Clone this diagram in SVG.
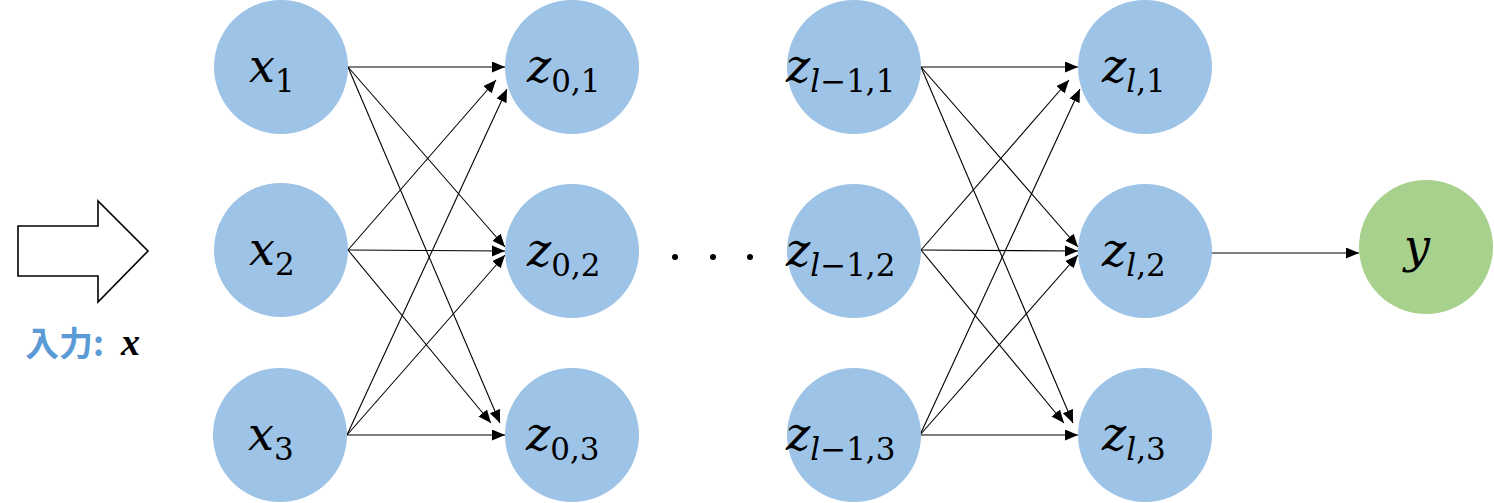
<svg xmlns="http://www.w3.org/2000/svg" width="1494" height="503" viewBox="0 0 1494 503">
<style>
.n{fill:#9DC3E6}
.g{fill:#A9D18E}
.lbl{font-family:"DejaVu Serif","Liberation Serif",serif;fill:#000}
.m{font-size:46px;font-style:italic}
.s{font-size:31px;font-style:normal}
.si{font-size:31px;font-style:italic}
.c line{stroke:#000;stroke-width:1.1;marker-end:url(#ah)}
</style>
<defs>
<marker id="ah" markerUnits="userSpaceOnUse" markerWidth="14" markerHeight="12" refX="13" refY="5.5" orient="auto">
<path d="M0,0 L13,5.5 L0,11 Z" fill="#000"/>
</marker>
</defs>
<rect width="1494" height="503" fill="#fff"/>

<g id="input-arrow">
<path d="M18,226 L98,226 L98,201 L148,251 L98,302 L98,276 L18,276 Z" fill="#fff" stroke="#000" stroke-width="1.6"/>
<text x="25" y="356" font-family="'Noto Sans CJK JP',sans-serif" font-weight="bold" font-size="34" fill="#5B9BD5">入力:</text>
<text x="121" y="355" font-family="'Liberation Serif',serif" font-weight="bold" font-style="italic" font-size="38" fill="#000">x</text>
</g>

<g class="c" id="connectors">
<line x1="348" y1="67" x2="505" y2="67"/>
<line x1="348" y1="67" x2="505" y2="247"/>
<line x1="348" y1="67" x2="500" y2="423"/>
<line x1="348" y1="250" x2="496" y2="80"/>
<line x1="348" y1="250" x2="505" y2="251"/>
<line x1="348" y1="250" x2="491" y2="423"/>
<line x1="347" y1="435" x2="507" y2="89"/>
<line x1="347" y1="435" x2="505" y2="255"/>
<line x1="347" y1="435" x2="505" y2="435"/>

<line x1="921" y1="67" x2="1078" y2="67"/>
<line x1="921" y1="67" x2="1078" y2="247"/>
<line x1="921" y1="67" x2="1073" y2="423"/>
<line x1="921" y1="250" x2="1069" y2="80"/>
<line x1="921" y1="250" x2="1078" y2="251"/>
<line x1="921" y1="250" x2="1064" y2="423"/>
<line x1="920" y1="435" x2="1080" y2="89"/>
<line x1="920" y1="435" x2="1078" y2="255"/>
<line x1="920" y1="435" x2="1078" y2="435"/>

<line x1="1212" y1="253" x2="1359" y2="253"/>
</g>

<g id="x1"><circle class="n" cx="281" cy="67" r="67"/><text class="lbl" x="249" y="82"><tspan class="m">x</tspan><tspan class="s" dy="10">1</tspan></text></g>
<g id="x2"><circle class="n" cx="281" cy="250" r="67"/><text class="lbl" x="249" y="265"><tspan class="m">x</tspan><tspan class="s" dy="10">2</tspan></text></g>
<g id="x3"><circle class="n" cx="280" cy="435" r="67"/><text class="lbl" x="248" y="450"><tspan class="m">x</tspan><tspan class="s" dy="10">3</tspan></text></g>

<g id="z01"><circle class="n" cx="572" cy="67" r="67"/><text class="lbl" x="527" y="82"><tspan class="m">z</tspan><tspan class="s" dy="10">0,1</tspan></text></g>
<g id="z02"><circle class="n" cx="572" cy="251" r="67"/><text class="lbl" x="527" y="266"><tspan class="m">z</tspan><tspan class="s" dy="10">0,2</tspan></text></g>
<g id="z03"><circle class="n" cx="572" cy="435" r="67"/><text class="lbl" x="526" y="450"><tspan class="m">z</tspan><tspan class="s" dy="10">0,3</tspan></text></g>

<g id="dots" fill="#000"><circle cx="675" cy="257" r="3"/><circle cx="713" cy="257" r="3"/><circle cx="750" cy="257" r="3"/></g>

<g id="zl1_1"><circle class="n" cx="854" cy="67" r="67"/><text class="lbl" x="786" y="82"><tspan class="m">z</tspan><tspan class="si" dy="10">l</tspan><tspan class="s">−1,1</tspan></text></g>
<g id="zl1_2"><circle class="n" cx="854" cy="251" r="67"/><text class="lbl" x="786" y="266"><tspan class="m">z</tspan><tspan class="si" dy="10">l</tspan><tspan class="s">−1,2</tspan></text></g>
<g id="zl1_3"><circle class="n" cx="854" cy="435" r="67"/><text class="lbl" x="786" y="450"><tspan class="m">z</tspan><tspan class="si" dy="10">l</tspan><tspan class="s">−1,3</tspan></text></g>

<g id="zl_1"><circle class="n" cx="1145" cy="67" r="67"/><text class="lbl" x="1102" y="82"><tspan class="m">z</tspan><tspan class="si" dy="10">l</tspan><tspan class="s">,1</tspan></text></g>
<g id="zl_2"><circle class="n" cx="1145" cy="251" r="67"/><text class="lbl" x="1102" y="266"><tspan class="m">z</tspan><tspan class="si" dy="10">l</tspan><tspan class="s">,2</tspan></text></g>
<g id="zl_3"><circle class="n" cx="1145" cy="435" r="67"/><text class="lbl" x="1102" y="450"><tspan class="m">z</tspan><tspan class="si" dy="10">l</tspan><tspan class="s">,3</tspan></text></g>

<g id="y"><circle class="g" cx="1426" cy="247" r="67"/><text class="lbl m" x="1404" y="262">y</text></g>
</svg>
